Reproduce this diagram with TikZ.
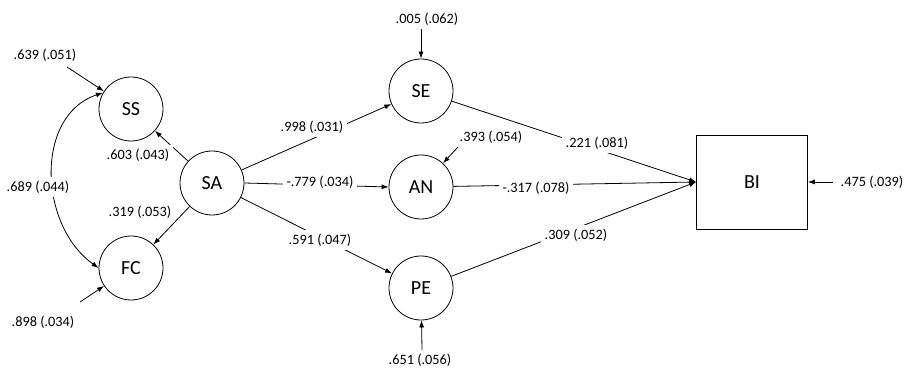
\documentclass[tikz,border=0pt]{standalone}
\usepackage{fontspec}
\setmainfont{Carlito}
\usetikzlibrary{arrows.meta}
\begin{document}
\begin{tikzpicture}[x=1pt,y=-1pt,
  lat/.style={circle,draw,line width=0.8pt,minimum size=64pt,inner sep=0pt,font=\fontsize{20}{24}\selectfont},
  obs/.style={rectangle,draw,line width=0.8pt,minimum width=111pt,minimum height=94pt,inner sep=0pt,font=\fontsize{20}{24}\selectfont},
  lab/.style={fill=white,inner sep=3.5pt,font=\fontsize{14.3}{16}\selectfont},
  path/.style={line width=0.8pt,-{Latex[length=7pt,width=5pt]}},
  dpath/.style={line width=0.8pt,{Latex[length=7pt,width=5pt]}-{Latex[length=7pt,width=5pt]}}]
\useasboundingbox (0,0) rectangle (905,371);

% latent variables and the outcome box
\node[lat] (SS) at (131,109) {SS};
\node[lat] (FC) at (131,268) {FC};
\node[lat] (SA) at (212,183) {SA};
\node[lat] (SE) at (421,91) {SE};
\node[lat] (AN) at (421,187) {AN};
\node[lat] (PE) at (421,288) {PE};
\node[obs] (BI) at (752,182) {BI};

% starting points of the residual arrows
\coordinate (eSS) at (67,67);
\coordinate (eFC) at (80,302);
\coordinate (eSE) at (421,29);
\coordinate (eAN) at (458,147);
\coordinate (ePE) at (422,350);
\coordinate (eBI) at (833,182);

% structural paths
\draw[path] (SA) -- (SS);
\draw[path] (SA) -- (FC);
\draw[path] (SA) -- (SE);
\draw[path] (SA.east) -- (AN.west);
\draw[path] (SA) -- (PE);
\draw[path] (SE) -- (BI.west);
\draw[path] (AN) -- (BI.west);
\draw[path] (PE) -- (BI.west);

% covariance between SS and FC
\draw[dpath] (SS.150) .. controls (35,115) and (38,225) .. (FC.180);

% residual arrows
\draw[path] (eSS) -- (SS);
\draw[path] (eFC) -- (FC);
\draw[path] (eSE) -- (SE);
\draw[path] (eAN) -- (AN);
\draw[path] (ePE) -- (PE);
\draw[path] (eBI) -- (BI);

% estimates
\node[lab] (l1) at (45,55) {.639 (.051)};
\node[lab] (l2) at (138,155) {.603 (.043)};
\node[lab] (l3) at (38,187) {.689 (.044)};
\node[lab] (l4) at (140,212) {.319 (.053)};
\node[lab] (l5) at (43,322) {.898 (.034)};
\node[lab] (l6) at (427,19) {.005 (.062)};
\node[lab] (l7) at (312,127) {.998 (.031)};
\node[lab] (l8) at (320,182) {-.779 (.034)};
\node[lab] (l9) at (320,240) {.591 (.047)};
\node[lab] (l10) at (491,137) {.393 (.054)};
\node[lab] (l11) at (420,360) {.651 (.056)};
\node[lab] (l12) at (597,143) {.221 (.081)};
\node[lab] (l13) at (536,188) {-.317 (.078)};
\node[lab] (l14) at (576,235) {.309 (.052)};
\node[lab] (l15) at (872,182) {.475 (.039)};
\end{tikzpicture}
\end{document}
